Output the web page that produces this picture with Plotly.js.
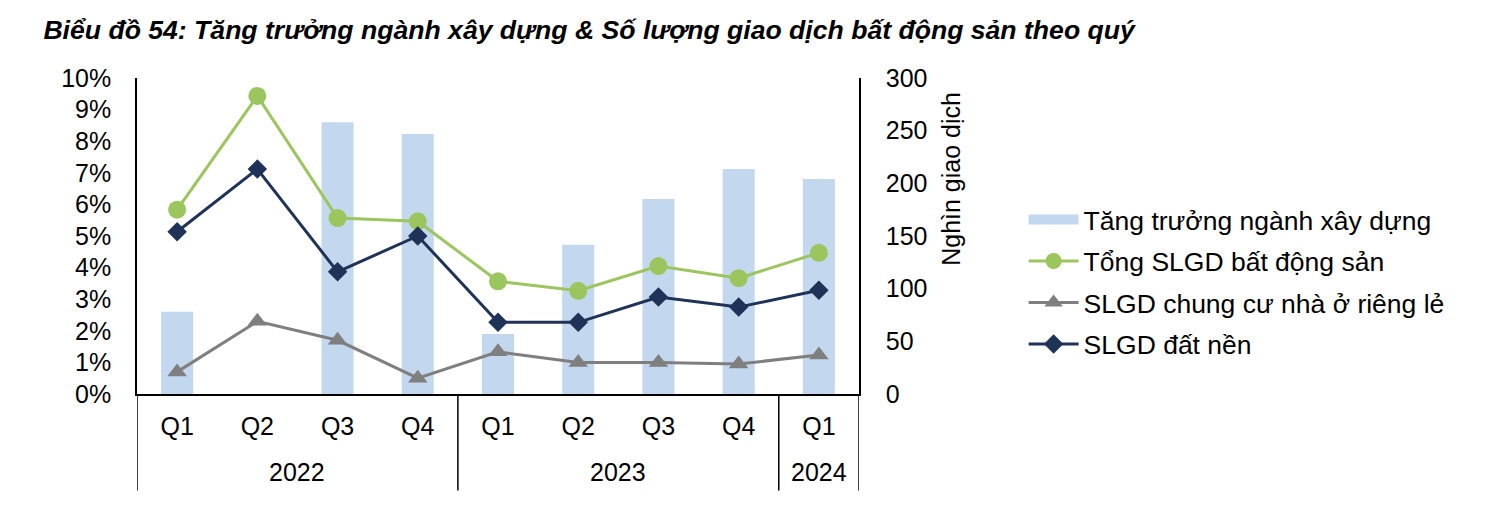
<!DOCTYPE html>
<html><head><meta charset="utf-8">
<script src="https://cdn.plot.ly/plotly-3.0.1.min.js"></script>
<style>body{margin:0;background:#fff}#chart{width:1496px;height:524px}</style>
</head><body><div id="chart"></div>
<script>
const years = ["2022","2022","2022","2022","2023","2023","2023","2023","2024"];
const quarters = ["Q1","Q2","Q3","Q4","Q1","Q2","Q3","Q4","Q1"];
const constructionGrowth = [0.026, null, 0.086, 0.0823, 0.019, 0.0472, 0.0617, 0.0712, 0.068];
const totalTransactions = [175, 283, 167, 164, 107, 98, 121.5, 110, 134];
const apartmentTransactions = [21, 69, 51, 15, 40, 30, 30, 28.5, 37];
const landTransactions = [154, 213.5, 116, 150, 68, 68, 92, 82.5, 98.5];

const idx = quarters.map((_, i) => i);
const FF = "Liberation Sans, Arial, sans-serif";
const font = {family: FF, size: 25, color: "#000"};
const barColor = "#C3D8EE";

const traces = [
  {type:"bar", name:"Tăng trưởng ngành xây dựng", x:idx, y:constructionGrowth,
   marker:{color:barColor}, width:0.4, yaxis:"y", showlegend:false},
  {type:"scatter", mode:"lines", name:"Tăng trưởng ngành xây dựng", x:[null], y:[null],
   line:{color:barColor, width:11}, yaxis:"y", legendgroup:"a", hoverinfo:"skip"},
  {type:"scatter", mode:"lines+markers", name:"Tổng SLGD bất động sản", x:idx, y:totalTransactions,
   line:{color:"#9BC65E", width:3}, marker:{symbol:"circle", size:18, color:"#9BC65E"}, yaxis:"y2", legendgroup:"b"},
  {type:"scatter", mode:"lines+markers", name:"SLGD chung cư nhà ở riêng lẻ", x:idx, y:apartmentTransactions,
   line:{color:"#7F7F7F", width:3}, marker:{symbol:"triangle-up", size:17, color:"#7F7F7F"}, yaxis:"y2", legendgroup:"c"},
  {type:"scatter", mode:"lines+markers", name:"SLGD đất nền", x:idx, y:landTransactions,
   line:{color:"#1F3257", width:3}, marker:{symbol:"diamond", size:15, color:"#1F3257"}, yaxis:"y2", legendgroup:"d"}
];

// year group labels and dividers computed from the category arrays
const annotations = [];
const shapes = [];
const groups = [];
years.forEach((yv, i) => {
  if (!groups.length || groups[groups.length-1].year !== yv) groups.push({year: yv, start: i, end: i});
  else groups[groups.length-1].end = i;
});
groups.forEach((g, k) => {
  annotations.push({xref:"x", yref:"paper", x:(g.start+g.end)/2, y:-0.247, text:g.year,
    showarrow:false, xanchor:"center", yanchor:"middle", font:font});
  if (k === 0) shapes.push({type:"line", xref:"x", yref:"paper", x0:g.start-0.5, x1:g.start-0.5, y0:0, y1:-0.305,
    line:{color:"#000", width:1.5}});
  shapes.push({type:"line", xref:"x", yref:"paper", x0:g.end+0.5, x1:g.end+0.5, y0:0, y1:-0.305,
    line:{color:"#000", width:1.5}});
});
annotations.push({xref:"paper", yref:"paper", x:1.127, y:0.68, text:"Nghìn giao dịch", textangle:-90,
  showarrow:false, xanchor:"center", yanchor:"middle", font:font});

const layout = {
  width:1496, height:524,
  margin:{l:137, r:637, t:78, b:130},
  paper_bgcolor:"#fff", plot_bgcolor:"#fff",
  font:font,
  showlegend:true,
  title:{text:"<b><i>Biểu đồ 54: Tăng trưởng ngành xây dựng & Số lượng giao dịch bất động sản theo quý</i></b>",
         x:0.029, xanchor:"left", y:0.943, yanchor:"middle",
         font:{family:FF, size:26.6, color:"#000"}},
  xaxis:{range:[-0.5, 8.5], tickvals:idx, ticktext:quarters, showline:true, linecolor:"#000", linewidth:2,
         ticks:"", tickfont:font, showgrid:false, zeroline:false, ticklabelstandoff:9, fixedrange:true},
  yaxis:{range:[0,0.1], dtick:0.01, tickformat:".0%", showline:true, linecolor:"#000", linewidth:1.5,
         ticks:"", showgrid:false, zeroline:false, tickfont:font, ticklabelstandoff:19},
  yaxis2:{range:[0,300], dtick:50, overlaying:"y", side:"right", showline:true, linecolor:"#000", linewidth:1.5,
          ticks:"", showgrid:false, zeroline:false, tickfont:font, ticklabelstandoff:20},
  legend:{x:1.228, xanchor:"left", y:0.355, yanchor:"middle", font:{family:FF, size:26.5, color:"#000"},
          tracegroupgap:4, itemwidth:50, bgcolor:"rgba(0,0,0,0)"},
  annotations:annotations,
  shapes:shapes
};
Plotly.newPlot("chart", traces, layout, {displayModeBar:false});
</script></body></html>
